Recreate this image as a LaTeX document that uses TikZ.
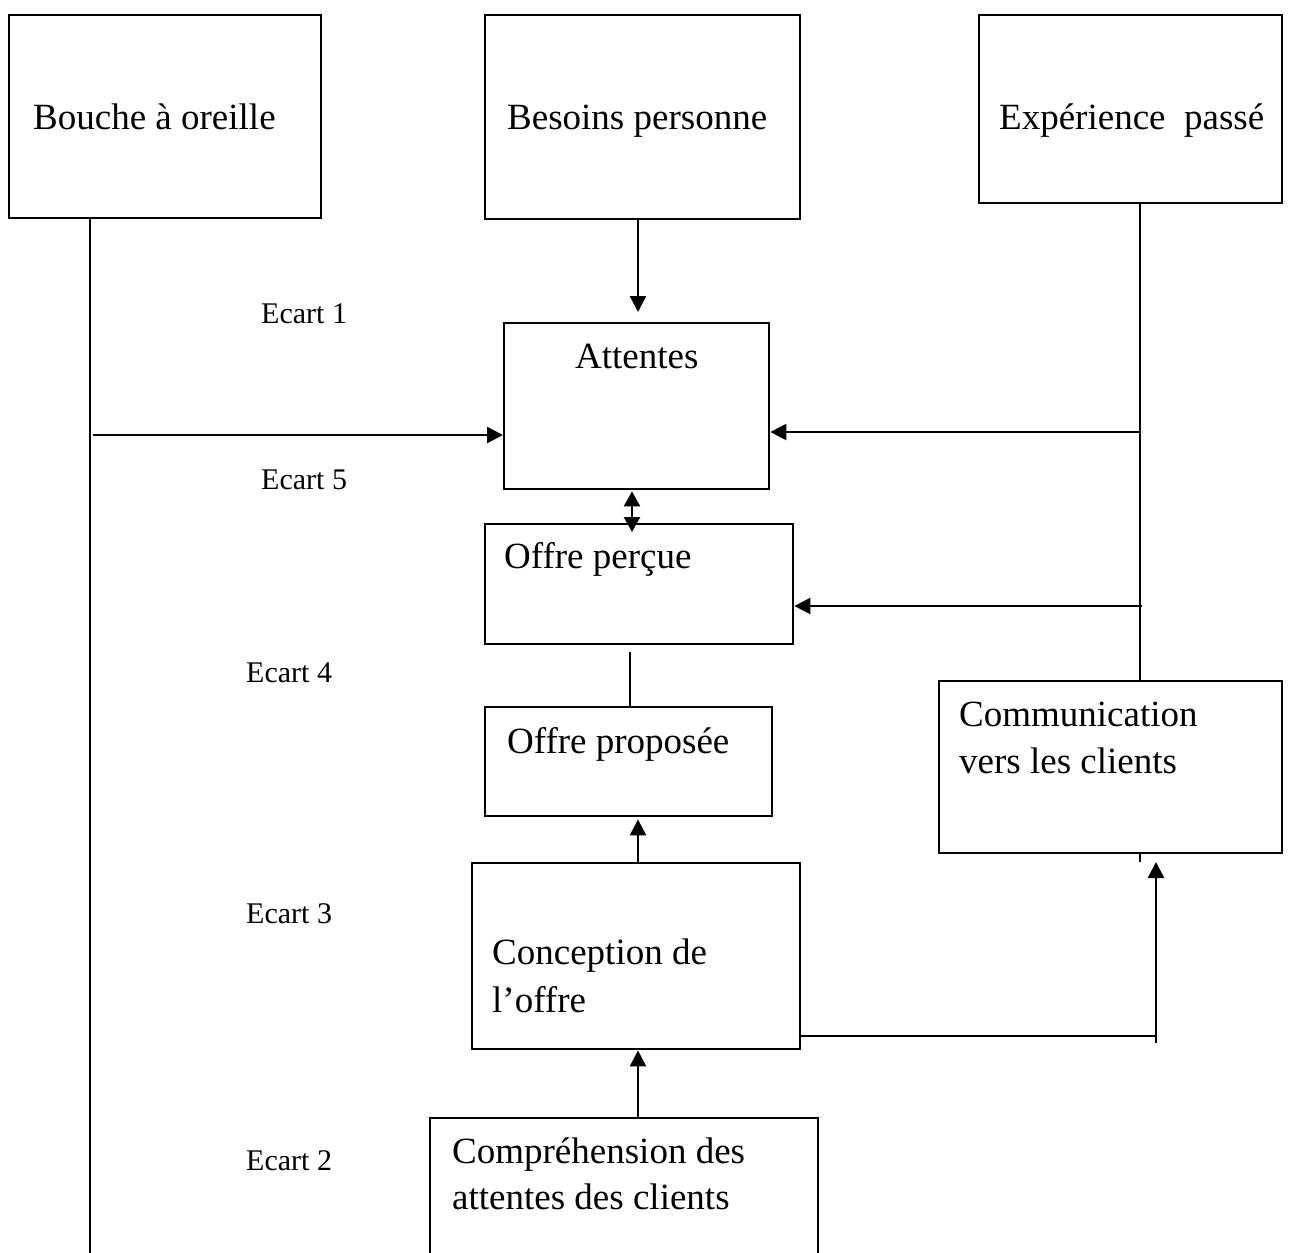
\documentclass[tikz,border=0pt]{standalone}
\usepackage{fontspec}
\setmainfont{Liberation Serif}
\usetikzlibrary{arrows.meta}
\begin{document}
\begin{tikzpicture}[x=0.5pt,y=-0.5pt,
  line width=1.2pt,
  box/.style={draw, rectangle, anchor=north west, inner sep=0pt},
  lbl/.style={anchor=base west, inner sep=0pt, font=\fontsize{18.5}{22}\selectfont},
  ecart/.style={anchor=base west, inner sep=0pt, font=\fontsize{15}{18}\selectfont},
  arr/.style={-{Triangle[length=8pt,width=8pt]}},
  darr/.style={{Triangle[length=7.5pt,width=8pt]}-{Triangle[length=7.5pt,width=8pt]}}]
\useasboundingbox (0,0) rectangle (1292,1253);
\clip (0,0) rectangle (1292,1253);

% boxes: name, left, top, right, bottom (in px)
\newcommand\mkbox[5]{%
  \node[box, minimum width={(#4-#2)*0.5pt}, minimum height={(#5-#3)*0.5pt}] (#1) at (#2,#3) {};}
\mkbox{bouche}{8}{14}{320}{217}
\mkbox{besoins}{484}{14}{799}{218}
\mkbox{exp}{978}{14}{1281}{202}
\mkbox{attentes}{503}{322}{768}{488}
\mkbox{percue}{484}{523}{792}{643}
\mkbox{proposee}{484}{706}{771}{815}
\mkbox{comm}{938}{680}{1281}{852}
\mkbox{conception}{471}{862}{799}{1048}
\mkbox{compr}{429}{1117}{817}{1320}

% box texts
\node[lbl] (tbouche) at (32,129) {Bouche à oreille};
\node[lbl] (tbesoins) at (506,129) {Besoins personne};
\node[lbl] (texp) at (998,129) {Expérience\ \ passé};
\node[lbl] (tattentes) at (574,368) {Attentes};
\node[lbl] (tpercue) at (503,568) {Offre perçue};
\node[lbl] (tproposee) at (506,753) {Offre proposée};
\node[lbl] (tcomm1) at (958,726) {Communication};
\node[lbl] (tcomm2) at (958,773) {vers les clients};
\node[lbl] (tconc1) at (491,964) {Conception de};
\node[lbl] (tconc2) at (491,1012) {l’offre};
\node[lbl] (tcompr1) at (451,1163) {Compréhension des};
\node[lbl] (tcompr2) at (451,1209) {attentes des clients};

% gap labels
\node[ecart] (e1) at (260,323) {Ecart 1};
\node[ecart] (e5) at (260,489) {Ecart 5};
\node[ecart] (e4) at (245,682) {Ecart 4};
\node[ecart] (e3) at (245,923) {Ecart 3};
\node[ecart] (e2) at (245,1170) {Ecart 2};

% helper coordinates
\coordinate (wl) at (90,0);
\coordinate (wlstart) at (93,435);
\coordinate (ex) at (1140,0);
\coordinate (exa) at (1140,432);
\coordinate (exb) at (1142,606);
\coordinate (bottom) at (0,1253);
\coordinate (bt) at (638,312);
\coordinate (cr) at (1156,1036);
\coordinate (crb) at (1156,1043);
\coordinate (crt) at (1156,862);

% connectors
\draw (bouche.south -| wl) -- (wl |- bottom);
\draw[arr] (wlstart) -- (attentes.west |- wlstart);
\draw[arr] (besoins.south -| bt) -- (bt);
\draw (exp.south -| ex) -- (comm.north -| ex);
\draw[arr] (exa) -- (attentes.east |- exa);
\draw[arr] (exb) -- (percue.east |- exb);
\draw[darr] ([xshift=64.5pt,yshift=-0.5pt]attentes.south west) -- ([xshift=74pt,yshift=-4.5pt]percue.north west);
\draw ([xshift=73pt,yshift=-3.5pt]percue.south west) -- ([xshift=73pt]proposee.north west);
\draw[arr] ([xshift=83.5pt]conception.north west) -- ([xshift=77pt,yshift=-1pt]proposee.south west);
\draw[arr] ([xshift=104.5pt]compr.north west) -- ([xshift=83.5pt]conception.south west);
\draw (conception.east |- cr) -- (cr);
\draw[arr] (crb) -- (crt);
\draw (comm.south -| ex) -- ++(0,8);
\end{tikzpicture}
\end{document}
